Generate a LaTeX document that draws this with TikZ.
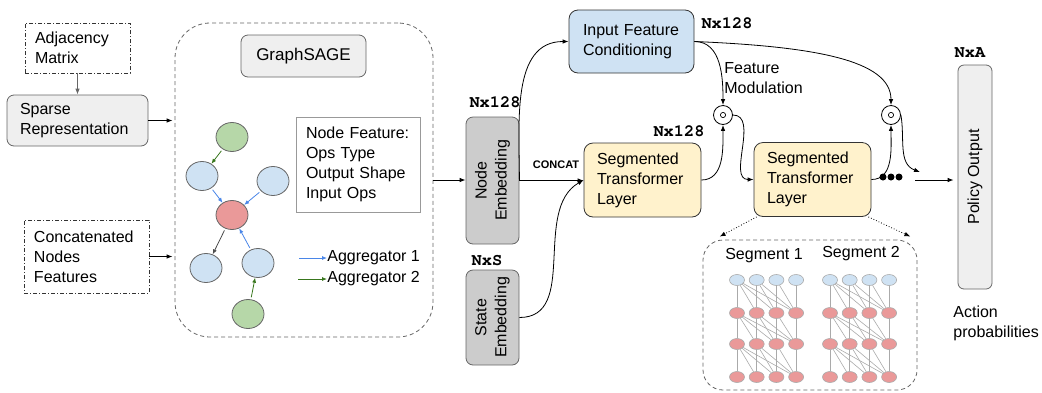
\documentclass[tikz,border=0pt]{standalone}
\usepackage[T1]{fontenc}
\usepackage{fontspec}
\setmainfont{Liberation Sans}
\setmonofont{Liberation Mono}
\usepackage{tikz}
\usetikzlibrary{arrows.meta,shapes.geometric}
\definecolor{boxgray}{HTML}{EFEFEF}
\definecolor{embgray}{HTML}{CCCCCC}
\definecolor{edgegray}{HTML}{666666}
\definecolor{palegray}{HTML}{999999}
\definecolor{linkgray}{HTML}{AAAAAA}
\definecolor{condblue}{HTML}{CFE2F3}
\definecolor{layeryellow}{HTML}{FFF2CC}
\definecolor{leafgreen}{HTML}{B6D7A8}
\definecolor{rootred}{HTML}{EA9999}
\definecolor{aggblue}{HTML}{4A86E8}
\definecolor{agggreen}{HTML}{38761D}
\newcommand{\dimfont}{\fontencoding{T1}\fontfamily{pcr}\fontseries{b}\fontsize{17}{17}\selectfont}

\begin{document}
\begin{tikzpicture}[x=1pt,y=1pt,line width=0.8pt,
	font=\fontsize{16}{20}\selectfont,
	>={Latex[length=6pt,width=4.5pt]},
	inbox/.style={draw=black!80,dash pattern=on 4pt off 2pt on 1pt off 2pt,align=left,inner ysep=0pt},
	grbox/.style={draw=edgegray,fill=boxgray,rounded corners=7pt,align=left},
	embbox/.style={draw=edgegray,fill=embgray,rounded corners=7pt,minimum width=53pt},
	layerbox/.style={draw=black!80,fill=layeryellow,rounded corners=9pt,align=left,
		inner xsep=13pt,text width=91pt,minimum height=74pt},
	gnode/.style={ellipse,draw=edgegray,minimum width=32pt,minimum height=29pt,inner sep=0pt},
	unit/.style={ellipse,draw=linkgray,line width=0.6pt,minimum width=15pt,minimum height=11pt,inner sep=0pt},
	unitlink/.style={draw=linkgray,line width=0.6pt},
	agg1/.style={->,draw=aggblue,shorten <=2pt,>={Latex[length=5pt,width=4pt]}},
	agg2/.style={->,draw=agggreen,shorten <=2pt,>={Latex[length=5pt,width=4pt]}},
	mult/.style={circle,draw=black,fill=white,minimum size=19pt,inner sep=0pt,
		path picture={\draw[line width=0.7pt] (path picture bounding box.center) circle (2.6pt);}},
	dimtxt/.style={font=\dimfont,inner sep=0pt},
	lbl/.style={inner sep=0pt,align=left}]
	\useasboundingbox (0,0) rectangle (1042,-392);

	% inputs
	\node[inbox,text width=85pt,inner xsep=10pt,minimum height=50pt] (adj) at (77.5,-48) {Adjacency\\Matrix};
	\node[grbox,text width=115pt,inner xsep=13pt,minimum height=51pt] (sparse) at (77.5,-120.5) {Sparse\\Representation};
	\node[inbox,text width=105pt,inner xsep=10pt,minimum height=73pt] (feats) at (86.5,-256.5) {Concatenated\\Nodes\\Features};

	% graphsage block
	\node[draw=edgegray,dash pattern=on 4pt off 3pt,rounded corners=35pt,minimum width=258pt,minimum height=314pt] (gs) at (304,-180) {};
	\node[grbox,minimum width=125pt,minimum height=42pt,font=\fontsize{17}{20}\selectfont] (gstitle) at (303.5,-56) {GraphSAGE};
	\node[draw=palegray,fill=white,align=left,text width=104pt,inner xsep=10pt,minimum height=95pt] (opsfeat) at (358,-164.5) {Node Feature:\\Ops Type\\Output Shape\\Input Ops};
	\node[gnode,fill=leafgreen] (g1) at (232,-137) {};
	\node[gnode,fill=condblue] (b1) at (202,-176) {};
	\node[gnode,fill=condblue] (b2) at (273,-181) {};
	\node[gnode,fill=rootred] (root) at (232,-215) {};
	\node[gnode,fill=condblue] (b3) at (206,-268) {};
	\node[gnode,fill=condblue] (b4) at (258,-263) {};
	\node[gnode,fill=leafgreen] (g2) at (248,-314) {};
	\draw[agg2] (g1) -- (b1);
	\draw[agg1] (b1) -- (root);
	\draw[agg1] (b2) -- (root);
	\draw[->,draw=black!70,shorten <=2pt,>={Latex[length=5pt,width=4pt]}] (root) -- (b3);
	\draw[agg1] (b4) -- (root);
	\draw[agg2] (g2) -- (b4);
	\node[lbl,anchor=west] (agg1txt) at (327,-258) {Aggregator 1};
	\node[lbl,anchor=west] (agg2txt) at (327,-279) {Aggregator 2};
	\coordinate (agg1tail) at (297,-258);
	\coordinate (agg2tail) at (296,-279);
	\draw[agg1] (agg1tail) -- (agg1txt.west);
	\draw[agg2] (agg2tail) -- (agg2txt.west);

	% embeddings
	\node[embbox,minimum height=127pt] (embed) at (492.5,-180.5) {};
	\node[rotate=90,align=center] (embedtxt) at (embed) {Node\\Embedding};
	\node[embbox,minimum height=95pt] (state) at (492.5,-317.5) {};
	\node[rotate=90,align=center] (statetxt) at (state) {State\\Embedding};
	\node[dimtxt] (embeddim) at (495,-102) {Nx128};
	\node[dimtxt] (statedim) at (487,-261) {NxS};
	\node[font=\bfseries\fontsize{11}{11}\selectfont,inner sep=0pt] (concat) at (556,-165) {CONCAT};

	% conditioning and layers
	\node[draw=black!80,fill=condblue,rounded corners=9pt,align=left,text width=97pt,inner xsep=14pt,minimum height=63pt] (cond) at (631.5,-41.5) {Input Feature\\Conditioning};
	\node[dimtxt] (conddim) at (727,-23) {Nx128};
	\node[layerbox] (layer1) at (642.5,-180) {Segmented\\Transformer\\Layer};
	\node[dimtxt] (layer1dim) at (679,-131) {Nx128};
	\node[layerbox] (layer2) at (812.5,-179.5) {Segmented\\Transformer\\Layer};
	\node[mult] (mod1) at (723,-115) {};
	\node[mult] (mod2) at (891,-115) {};
	\node[lbl,anchor=west] (modtxt) at (724,-78) {Feature\\Modulation};
	\foreach \d in {883,891,899}
		\fill (\d,-177) circle (3.5pt);

	% policy
	\node[grbox,rounded corners=6pt,minimum width=34pt,minimum height=224pt] (policy) at (975,-177) {};
	\node[rotate=90] (policytxt) at (policy) {Policy Output};
	\node[dimtxt] (policydim) at (970,-53) {NxA};
	\node[lbl,anchor=west] (probs) at (953,-323) {Action\\probabilities};

	% segments
	\node[draw=edgegray,dash pattern=on 4pt off 3pt,rounded corners=20pt,minimum width=214pt,minimum height=150pt] (segs) at (810,-315) {};
	\node[lbl] (seg1txt) at (764,-256) {Segment 1};
	\node[lbl] (seg2txt) at (861,-254) {Segment 2};
	\foreach \s/\xo in {1/737,2/830}
		\foreach \r/\yo/\col in {1/280/condblue,2/313/rootred,3/344/rootred,4/377/rootred}
			\foreach \i in {0,...,3}
				\node[unit,fill=\col] (u\s\r\i) at ({\xo+19.7*\i},-\yo) {};
	\foreach \s in {1,2}
		\foreach \r in {1,2,3} {
			\pgfmathtruncatemacro{\rnext}{\r+1}
			\foreach \i in {0,...,3}
				\foreach \j in {\i,...,3}
					\draw[unitlink] (u\s\r\i) -- (u\s\rnext\j);
		}

	% connectors
	\draw[->,draw=edgegray] (adj) -- (sparse);
	\draw[->,shorten >=2pt] (sparse.east) -- (sparse.east -| gs.west);
	\draw[->,shorten >=2pt] (feats.east) -- (feats.east -| gs.west);
	\draw[->] (gs.east) -- (gs.east -| embed.west);
	\draw[->] (embed.east) to[out=90,in=180] (cond.west);
	\draw[->] (embed.east) -- (embed.east -| layer1.west);
	\draw[->] (state.east) to[out=0,in=210] (layer1.west);
	\draw[->] (cond.east) to[out=0,in=90] (mod1.north);
	\draw[->] (layer1.east) to[out=0,in=-90] (mod1.south);
	\draw[->] (mod1.east) to[out=0,in=180] (layer2.west);
	\draw[->] (cond.east) .. controls +(120,-5) and +(0,45) .. (mod2.north);
	\draw[->] (layer2.east) to[out=0,in=-90] (mod2.south);
	\coordinate (mod2end) at (920,-172);
	\draw[->] (mod2.east) to[out=-80,in=160] (mod2end);
	\coordinate (outtail) at (915,-180);
	\draw[->,shorten >=4pt] (outtail) -- (outtail -| policy.west);
	\draw[->,dotted] ([xshift=3pt]layer2.south west) -- ([shift={(17,3)}]segs.north west);
	\draw[->,dotted] ([xshift=-3pt]layer2.south east) -- ([shift={(-7,3)}]segs.north east);
\end{tikzpicture}
\end{document}
